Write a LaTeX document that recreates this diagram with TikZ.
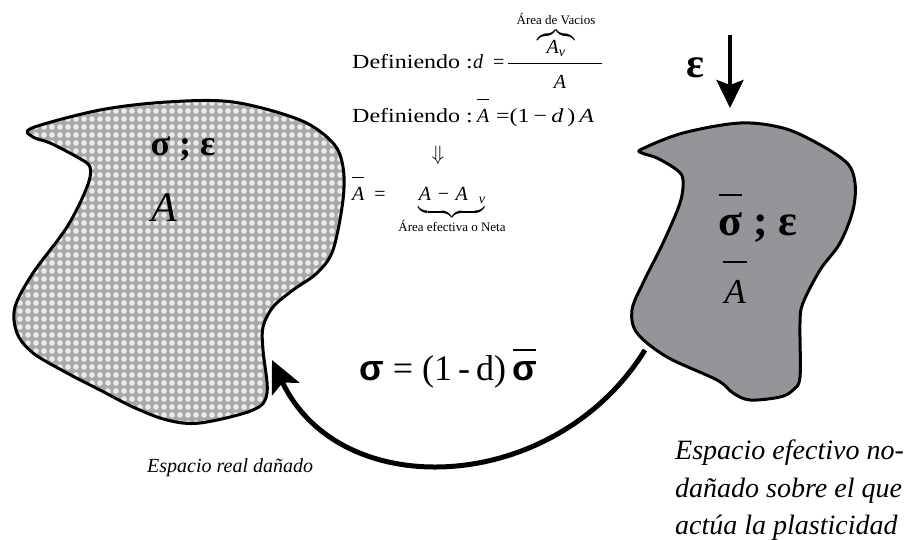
\documentclass[tikz,border=0pt]{standalone}
\usepackage{amsmath}
\usepackage{fontspec}
\setmainfont{Liberation Serif}
\newfontfamily\sansbold{Liberation Sans}
\usetikzlibrary{arrows.meta,patterns.meta}
\definecolor{shapeR}{RGB}{147,149,152}
\definecolor{foamBg}{RGB}{168,168,168}
\definecolor{foamDot}{RGB}{236,236,236}
\tikzdeclarepattern{name=foam, type=uncolored, bottom left={(-1pt,-1pt)}, top right={(9pt,9pt)}, tile size={(8pt,8pt)}, code={\fill (4pt,4pt) circle (2.8pt);}}
\newcommand\myovl[3]{\setbox0\hbox{#3}\rlap{\hbox to\wd0{\hss\raisebox{#1}{\rule{#2\wd0}{0.06em}}\hss}}\box0\relax}
\begin{document}
\begin{tikzpicture}[x=1pt,y=-1pt,
  outline/.style={line width=3pt, line join=round},
  eqtxt/.style={font=\fontsize{20}{24}\selectfont, inner sep=0pt, anchor=base west},
  caption/.style={font=\itshape, inner sep=0pt}]
\useasboundingbox (0,0) rectangle (921,539);

% left shape (real damaged space)
\draw[outline, preaction={fill=foamBg}, preaction={pattern=foam, pattern color=foamDot}]
  plot[smooth cycle, tension=0.55] coordinates {
  (32,128) (100,110) (167,102) (233,102) (300,120) (333,143) (343,167) (343,200)
  (333,250) (317,273) (293,290) (273,307) (263,327) (263,350) (267,393) (253,410)
  (200,423) (167,420) (133,407) (100,390) (67,373) (33,353) (17,333) (15,307)
  (33,273) (67,227) (87,187) (90,167) (77,157) (50,143) (33,137)};

% right shape (effective undamaged space)
\draw[outline, fill=shapeR]
  plot[smooth cycle, tension=0.55] coordinates {
  (642,149) (683,133) (740,123) (783,128) (817,143) (847,163) (855,183) (853,210)
  (840,243) (820,270) (803,303) (800,323) (800,377) (793,390) (780,397) (750,400)
  (733,393) (717,380) (667,357) (637,333) (632,310) (643,283) (663,243) (680,203)
  (683,180) (677,170) (657,158) (642,153)};

% labels inside shapes
\node[inner sep=0pt, anchor=base, font=\fontsize{36}{40}\selectfont\bfseries] (lse) at (183,155) {σ ; ε};
\node[inner sep=0pt, anchor=base, font=\fontsize{42}{46}\selectfont\itshape] (la) at (164,221) {A};
\node[inner sep=0pt, anchor=base, font=\fontsize{44}{48}\selectfont\bfseries] (rse) at (758,235) {\myovl{0.88em}{0.95}{σ} ; ε};
\node[inner sep=0pt, anchor=base, font=\fontsize{35}{40}\selectfont\itshape] (ra) at (735,303) {\myovl{1.15em}{1.15}{A}};

% strain arrow
\node[inner sep=0pt, anchor=center, font=\fontsize{42}{46}\selectfont\bfseries] (eps) at (695,68) {ε};
\coordinate (epsTop) at (730,35);
\coordinate (epsTip) at (730,108);
\draw[line width=4pt, -{Stealth[length=28pt,width=27pt,inset=5pt]}] (epsTop) -- (epsTip);

% definitions
\node[eqtxt] (d1) at (352,68) {\scalebox{1.2}[1]{Definiendo :}};
\node[eqtxt] (d1d) at (473,68) {\itshape d};
\node[eqtxt] (d1eq) at (493,68) {=};
\coordinate (fracL) at (508,63);
\coordinate (fracR) at (602,63);
\draw[line width=0.8pt] (fracL) -- (fracR);
\node[eqtxt, anchor=base] (num) at (556,53) {$\overbrace{\text{\itshape A}_{\text{\itshape v}}}^{\raisebox{3pt}{\text{\fontsize{13}{15}\selectfont Área de Vacios}}}$};
\node[eqtxt, anchor=base] (den) at (560,88) {\itshape A};

\node[eqtxt] (d2) at (352,122) {\scalebox{1.2}[1]{Definiendo :}};
\node[eqtxt] (d2a) at (477,122) {\myovl{1.1em}{1.0}{\itshape A}};
\node[eqtxt] (d2r) at (496,122) {\scalebox{1.2}[1]{=(1\,−\,\textit{d}\,)\,\textit{A}}};

\node[eqtxt, anchor=center] (impl) at (438,155) {$\Downarrow$};

\node[eqtxt] (d3a) at (352,200) {\myovl{1.1em}{1.0}{\itshape A}\ \ =};
\node[eqtxt, anchor=base] (d3b) at (452,200) {$\underbrace{\text{\itshape A\;−\;A\;\;\raisebox{-3pt}{\fontsize{14}{16}\selectfont v}\rule[-8pt]{0pt}{8pt}}}_{\text{\fontsize{13}{15}\selectfont Área efectiva o Neta}}$};

% relation arrow
\coordinate (arrS) at (645,350);
\coordinate (arrE) at (272,360);
\draw[line width=5pt, -{Stealth[length=32pt,width=30pt,inset=7pt]}]
  (arrS) .. controls (555,495) and (340,505) .. (arrE);
\node[inner sep=0pt, anchor=base, font=\fontsize{36}{40}\selectfont] (rel) at (448,380)
  {{\sansbold\bfseries σ} = (1\,-\,d)\,\myovl{0.8em}{0.95}{\sansbold\bfseries σ}};

% captions
\node[caption, anchor=base west, font=\fontsize{20}{24}\selectfont\itshape] (capL) at (147,472) {Espacio real dañado};
\node[caption, anchor=north west, align=left, font=\fontsize{28}{37.5}\selectfont\itshape] (capR) at (675,440)
  {Espacio efectivo no-\\dañado sobre el que\\actúa la plasticidad};
\end{tikzpicture}
\end{document}
